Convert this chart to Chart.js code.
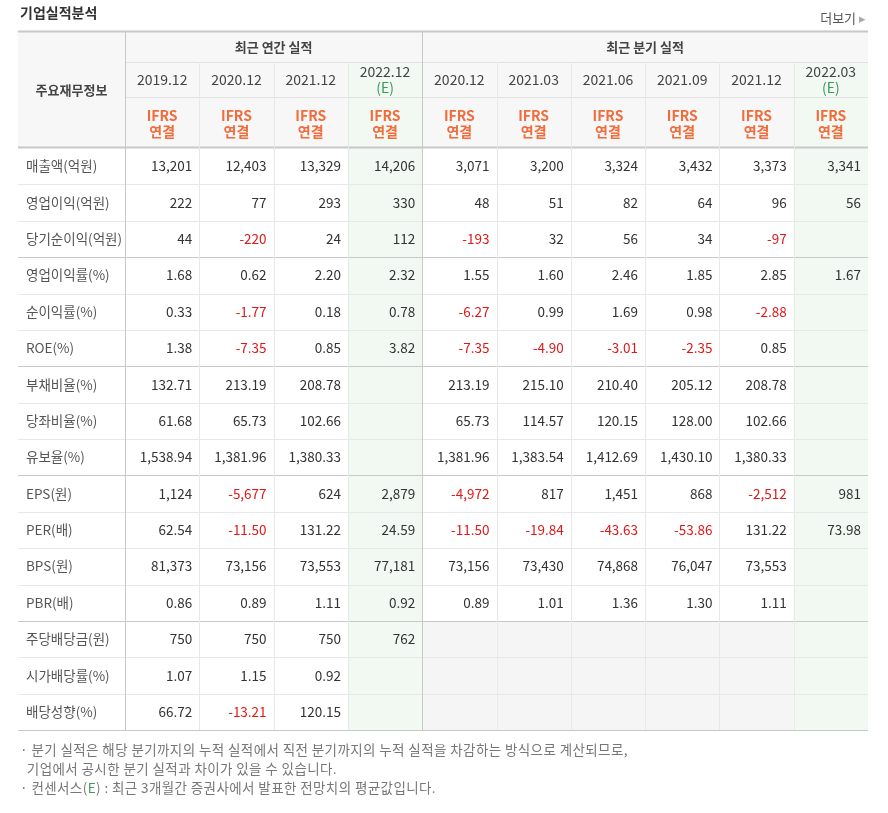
<!DOCTYPE html>
<html>
<head>
<meta charset="utf-8">
<script src="https://cdn.jsdelivr.net/npm/chart.js@4"></script>
<style>
  body { margin: 0; background: #fff; font-family: "Noto Sans CJK KR", sans-serif; }
  #wrap { position: relative; width: 888px; height: 813px; }
  .title { position: absolute; left: 20px; top: 2px; font-size: 14px; font-weight: bold; color: #333; }
  .more { position: absolute; right: 22px; top: 8px; font-size: 13px; color: #555; }
  .note { position: absolute; left: 20px; top: 740px; font-size: 13.5px; color: #777; line-height: 19px; letter-spacing: 0.4px; }
</style>
</head>
<body>
<div id="wrap">
  <canvas id="output" width="888" height="813"></canvas>
  <div class="title">기업실적분석</div>
  <div class="more">더보기 <span style="color:#aaa">▸</span></div>
  <div class="note">
    · 분기 실적은 해당 분기까지의 누적 실적에서 직전 분기까지의 누적 실적을 차감하는 방식으로 계산되므로,<br>
    &nbsp;&nbsp;기업에서 공시한 분기 실적과 차이가 있을 수 있습니다.<br>
    · 컨센서스(<span style="color:#3a9a5a">E</span>) : 최근 3개월간 증권사에서 발표한 전망치의 평균값입니다.
  </div>
</div>
<script>
// column headers
const periods = ["2019.12", "2020.12", "2021.12", "2022.12", "2020.12", "2021.03", "2021.06", "2021.09", "2021.12", "2022.03"];
const estimated = [false, false, false, true, false, false, false, false, false, true];

// row labels
const rowLabels = [
  "매출액(억원)", "영업이익(억원)", "당기순이익(억원)", "영업이익률(%)", "순이익률(%)", "ROE(%)",
  "부채비율(%)", "당좌비율(%)", "유보율(%)", "EPS(원)", "PER(배)", "BPS(원)", "PBR(배)",
  "주당배당금(원)", "시가배당률(%)", "배당성향(%)"
];

// one array per row, null = empty cell
const sales      = ["13,201", "12,403", "13,329", "14,206", "3,071", "3,200", "3,324", "3,432", "3,373", "3,341"];
const opProfit   = ["222", "77", "293", "330", "48", "51", "82", "64", "96", "56"];
const netProfit  = ["44", "-220", "24", "112", "-193", "32", "56", "34", "-97", null];
const opMargin   = ["1.68", "0.62", "2.20", "2.32", "1.55", "1.60", "2.46", "1.85", "2.85", "1.67"];
const netMargin  = ["0.33", "-1.77", "0.18", "0.78", "-6.27", "0.99", "1.69", "0.98", "-2.88", null];
const roe        = ["1.38", "-7.35", "0.85", "3.82", "-7.35", "-4.90", "-3.01", "-2.35", "0.85", null];
const debtRatio  = ["132.71", "213.19", "208.78", null, "213.19", "215.10", "210.40", "205.12", "208.78", null];
const quickRatio = ["61.68", "65.73", "102.66", null, "65.73", "114.57", "120.15", "128.00", "102.66", null];
const reserve    = ["1,538.94", "1,381.96", "1,380.33", null, "1,381.96", "1,383.54", "1,412.69", "1,430.10", "1,380.33", null];
const eps        = ["1,124", "-5,677", "624", "2,879", "-4,972", "817", "1,451", "868", "-2,512", "981"];
const per        = ["62.54", "-11.50", "131.22", "24.59", "-11.50", "-19.84", "-43.63", "-53.86", "131.22", "73.98"];
const bps        = ["81,373", "73,156", "73,553", "77,181", "73,156", "73,430", "74,868", "76,047", "73,553", null];
const pbr        = ["0.86", "0.89", "1.11", "0.92", "0.89", "1.01", "1.36", "1.30", "1.11", null];
const dps        = ["750", "750", "750", "762", null, null, null, null, null, null];
const divYield   = ["1.07", "1.15", "0.92", null, null, null, null, null, null, null];
const payout     = ["66.72", "-13.21", "120.15", null, null, null, null, null, null, null];

const rows = [sales, opProfit, netProfit, opMargin, netMargin, roe, debtRatio, quickRatio, reserve,
  eps, per, bps, pbr, dps, divYield, payout];
const groupEnds = [2, 5, 8, 12];

const FONT = '"Noto Sans CJK KR", sans-serif';

const tablePlugin = {
  id: "tablePlugin",
  beforeDraw(chart) {
    const { ctx, chartArea: a, scales: { x, y } } = chart;
    const cw = (a.right - a.left) / periods.length;
    const rh = (a.bottom - a.top) / rows.length;
    const tableLeft = 18, tableTop = 32, h1 = 62, h2 = 97;
    ctx.save();
    // header background
    ctx.fillStyle = "#f7f7f7";
    ctx.fillRect(tableLeft, tableTop, a.right - tableLeft, a.top - tableTop);
    // body backgrounds
    periods.forEach((p, i) => {
      const cx = x.getPixelForValue(i);
      if (estimated[i]) {
        ctx.fillStyle = "#f2f8f2";
        ctx.fillRect(cx - cw / 2, h1, cw, a.bottom - h1);
      } else if (i >= 4) {
        ctx.fillStyle = "#f5f5f5";
        ctx.fillRect(cx - cw / 2, y.getPixelForValue(13) - rh / 2, cw, rh * 3);
      }
    });
    // horizontal lines
    ctx.lineWidth = 1;
    const hline = (yy, x0, x1, c) => { ctx.strokeStyle = c; ctx.beginPath(); ctx.moveTo(x0, yy + 0.5); ctx.lineTo(x1, yy + 0.5); ctx.stroke(); };
    rows.forEach((r, j) => {
      const yy = Math.round(y.getPixelForValue(j) + rh / 2);
      hline(yy, tableLeft, a.right, groupEnds.includes(j) || j === rows.length - 1 ? "#c8c8c8" : "#e8e8e8");
    });
    hline(h1, a.left, a.right, "#e2e2e2");
    hline(h2, a.left, a.right, "#e2e2e2");
    ctx.lineWidth = 2;
    hline(a.top - 1, tableLeft, a.right, "#c8c8c8");
    hline(tableTop - 1, tableLeft, a.right, "#c8c8c8");
    ctx.lineWidth = 1;
    // vertical lines
    const vline = (xx, y0, y1, c) => { ctx.strokeStyle = c; ctx.beginPath(); ctx.moveTo(xx + 0.5, y0); ctx.lineTo(xx + 0.5, y1); ctx.stroke(); };
    for (let i = 1; i < periods.length; i++) {
      const xx = Math.round(x.getPixelForValue(i) - cw / 2);
      if (i === 4) vline(xx, tableTop, a.bottom, "#c8c8c8");
      else vline(xx, h1, a.bottom, "#e8e8e8");
    }
    vline(Math.round(a.left), tableTop, a.bottom, "#c8c8c8");

    // header texts
    ctx.textAlign = "center"; ctx.textBaseline = "middle";
    ctx.fillStyle = "#444"; ctx.font = "bold 13px " + FONT;
    ctx.fillText("주요재무정보", (tableLeft + a.left) / 2, 90);
    ctx.fillText("최근 연간 실적", (x.getPixelForValue(0) + x.getPixelForValue(3)) / 2, 47);
    ctx.fillText("최근 분기 실적", (x.getPixelForValue(4) + x.getPixelForValue(9)) / 2, 47);
    periods.forEach((p, i) => {
      const cx = x.getPixelForValue(i);
      ctx.font = "14px " + FONT; ctx.fillStyle = "#444";
      if (estimated[i]) {
        ctx.fillText(p, cx, 72);
        ctx.fillStyle = "#3a9a5a"; ctx.fillText("(E)", cx, 88);
      } else ctx.fillText(p, cx, 80);
      ctx.fillStyle = "#f26b3a"; ctx.font = "bold 14px " + FONT;
      ctx.fillText("IFRS", cx, 116);
      ctx.fillText("연결", cx, 132);
    });

    // row labels and values
    ctx.font = "13.5px " + FONT;
    rows.forEach((r, j) => {
      const cy = y.getPixelForValue(j);
      ctx.textAlign = "left"; ctx.fillStyle = "#555";
      ctx.fillText(rowLabels[j], 26, cy);
      ctx.textAlign = "right";
      r.forEach((v, i) => {
        if (v === null) return;
        ctx.fillStyle = v.startsWith("-") ? "#e01818" : "#333";
        ctx.fillText(v, x.getPixelForValue(i) + cw / 2 - 7, cy);
      });
    });
    ctx.restore();
  }
};

new Chart(document.getElementById("output"), {
  type: "bar",
  data: { labels: periods.map((p, i) => i), datasets: [{ data: [] }] },
  options: {
    responsive: false,
    animation: false,
    layout: { padding: { left: 125, right: 20, top: 148, bottom: 83 } },
    scales: {
      x: { type: "category", labels: periods.map((p, i) => i), offset: true, display: false },
      y: { type: "category", labels: rowLabels.map((l, j) => j), offset: true, display: false }
    },
    plugins: { legend: { display: false }, tooltip: { enabled: false } }
  },
  plugins: [tablePlugin]
});
</script>
</body>
</html>
